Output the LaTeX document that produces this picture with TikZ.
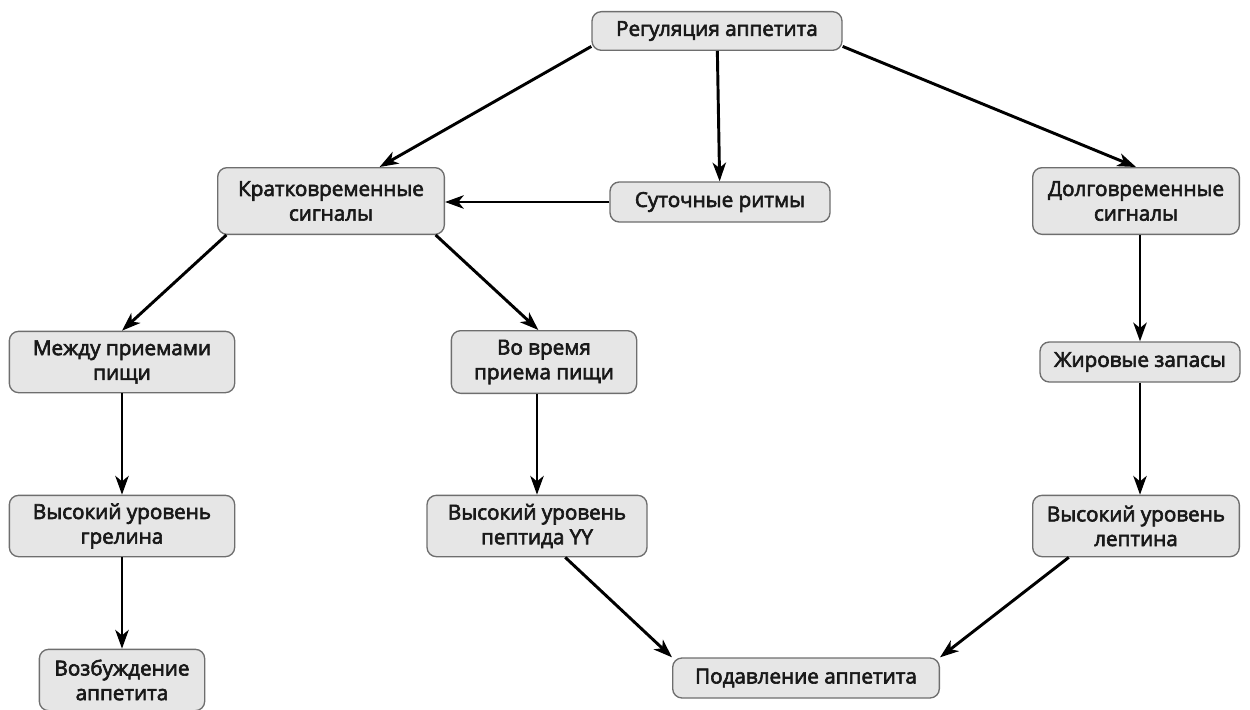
\documentclass[tikz,border=0pt]{standalone}
\usepackage{fontspec}
\setmainfont{Open Sans}
\newfontfamily\boxfont{Open Sans}[FakeBold=3]
\usetikzlibrary{arrows.meta}

\tikzset{every picture/.style={line width=0.75pt}}
\tikzset{
  block/.style={draw={rgb,255:red,110;green,110;blue,110}, fill={rgb,255:red,230;green,230;blue,230}, rounded corners=7pt, line width=1pt, align=center, inner sep=2pt, font=\boxfont\fontsize{15.5}{18.5}\selectfont, text={rgb,255:red,25;green,25;blue,25}},
  link/.style={line width=2.2pt, -{Stealth[length=14pt,width=10pt,inset=4pt]}}
}

\begin{document}
\begin{tikzpicture}[x=0.75pt,y=0.75pt,yscale=-1,xscale=1]
\useasboundingbox (0,0) rectangle (1250,710);

% Text Node
\draw (717,31) node [block, minimum width=187.5, minimum height=29] (reg) {Регуляция аппетита};
% Text Node
\draw (331,201) node [block, minimum width=170, minimum height=50] (short) {Кратковременные\\сигналы};
% Text Node
\draw (720,202) node [block, minimum width=165, minimum height=30] (circ) {Суточные ритмы};
% Text Node
\draw (1136,201) node [block, minimum width=155, minimum height=50] (long) {Долговременные\\сигналы};
% Text Node
\draw (122,362) node [block, minimum width=169, minimum height=46] (between) {Между приемами\\пищи};
% Text Node
\draw (544,362) node [block, minimum width=139, minimum height=47] (during) {Во время\\приема пищи};
% Text Node
\draw (1140,362) node [block, minimum width=150, minimum height=30] (fat) {Жировые запасы};
% Text Node
\draw (122,526) node [block, minimum width=169, minimum height=46] (ghrelin) {Высокий уровень\\грелина};
% Text Node
\draw (537,526) node [block, minimum width=165, minimum height=46] (pyy) {Высокий уровень\\пептида YY};
% Text Node
\draw (1136,526) node [block, minimum width=155, minimum height=46] (leptin) {Высокий уровень\\лептина};
% Text Node
\draw (122,680) node [block, minimum width=124, minimum height=46] (excite) {Возбуждение\\аппетита};
% Text Node
\draw (806,678) node [block, minimum width=200, minimum height=30] (suppress) {Подавление аппетита};

%Straight Lines
\draw [link] (reg.187) -- (short.35);
\draw [link] (reg) -- (circ);
\draw [link] (reg.353) -- (long.north);
\draw [link] (circ) -- (circ -| short.east);
\draw [link] (short.198) -- (between.north);
\draw [link] (short.342) -- (during.100);
\draw [link] (between) -- (ghrelin);
\draw [link] (ghrelin) -- (excite);
\draw [link] (during.south -| pyy.north) -- (pyy.north);
\draw [link] (long.south -| fat.north) -- (fat.north);
\draw [link] (fat) -- (fat |- leptin.north);
\draw [link] (pyy.-48) -- (suppress.north west);
\draw [link] (leptin.205) -- (suppress.north east);
\end{tikzpicture}
\end{document}
